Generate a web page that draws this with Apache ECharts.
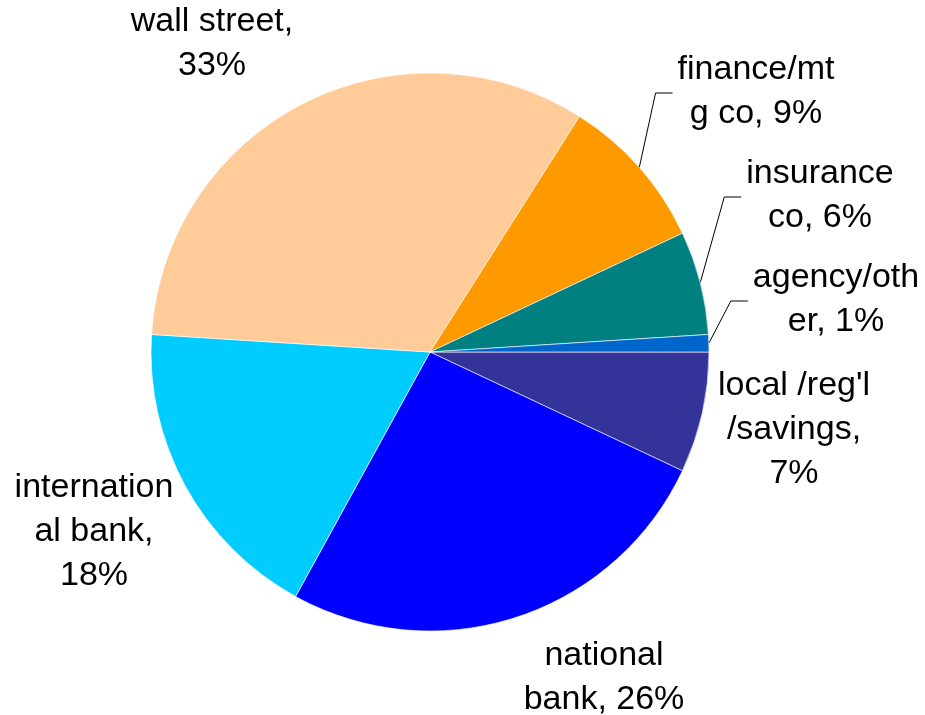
<!DOCTYPE html>
<html>
<head>
<meta charset="utf-8">
<script src="https://cdn.jsdelivr.net/npm/echarts@6/dist/echarts.min.js"></script>
<style>
  html, body { margin: 0; padding: 0; background: #fff; }
  #chart { width: 925px; height: 715px; }
</style>
</head>
<body>
<div id="chart"></div>
<script>
// slices in clockwise order from 3 o'clock
const categories = [
  "local /reg'l /savings",
  'national bank',
  'international bank',
  'wall street',
  'finance/mtg co',
  'insurance co',
  'agency/other'
];
const shares = [7, 26, 18, 33, 9, 6, 1];
// label text as wrapped in the original
const labelText = [
  "local /reg'l\n/savings,\n7%",
  'national\nbank, 26%',
  'internation\nal bank,\n18%',
  'wall street,\n33%',
  'finance/mt\ng co, 9%',
  'insurance\nco, 6%',
  'agency/oth\ner, 1%'
];
const colors = ['#333399', '#0000ff', '#00ccff', '#ffcc99', '#ff9900', '#008080', '#0066cc'];

// label centres and which labels get a leader line
const labelAnchors = [[794, 430], [604, 678], [94, 532], [212, 44], [756, 92], [820, 196], [836, 300]];
const withLeader = [false, false, false, false, true, true, true];

const center = [430, 352];
const radius = 279;

function edgePoint(i) {
  const total = shares.reduce((a, b) => a + b, 0);
  let before = 0;
  for (let k = 0; k < i; k++) before += shares[k];
  const ang = ((before + shares[i] / 2) / total) * Math.PI * 2;
  return [center[0] + radius * Math.cos(ang), center[1] + radius * Math.sin(ang)];
}

const chart = echarts.init(document.getElementById('chart'), null, { renderer: 'canvas' });

chart.setOption({
  animation: false,
  backgroundColor: '#fff',
  series: [
    {
      type: 'pie',
      center: center,
      radius: radius,
      startAngle: 0,
      clockwise: true,
      avoidLabelOverlap: false,
      itemStyle: { borderColor: 'rgba(255,255,255,0.6)', borderWidth: 1 },
      label: {
        show: true,
        position: 'outside',
        color: '#000',
        fontFamily: 'Liberation Sans, Arial, sans-serif',
        fontSize: 34,
        lineHeight: 44,
        align: 'center',
        formatter: (p) => labelText[p.dataIndex]
      },
      labelLine: {
        show: true,
        smooth: false,
        lineStyle: { color: '#000', width: 1 }
      },
      labelLayout: (params) => {
        const i = params.dataIndex;
        const p = labelAnchors[i];
        const out = { x: p[0], y: p[1], align: 'center', verticalAlign: 'middle' };
        if (withLeader[i]) {
          const left = p[0] - params.labelRect.width / 2;
          out.labelLinePoints = [edgePoint(i), [left - 22, p[1] + 1], [left - 5, p[1] + 1]];
        }
        return out;
      },
      data: categories.map((name, i) => ({
        name: name,
        value: shares[i],
        itemStyle: { color: colors[i] },
        labelLine: { show: withLeader[i] }
      }))
    }
  ]
});
</script>
</body>
</html>
